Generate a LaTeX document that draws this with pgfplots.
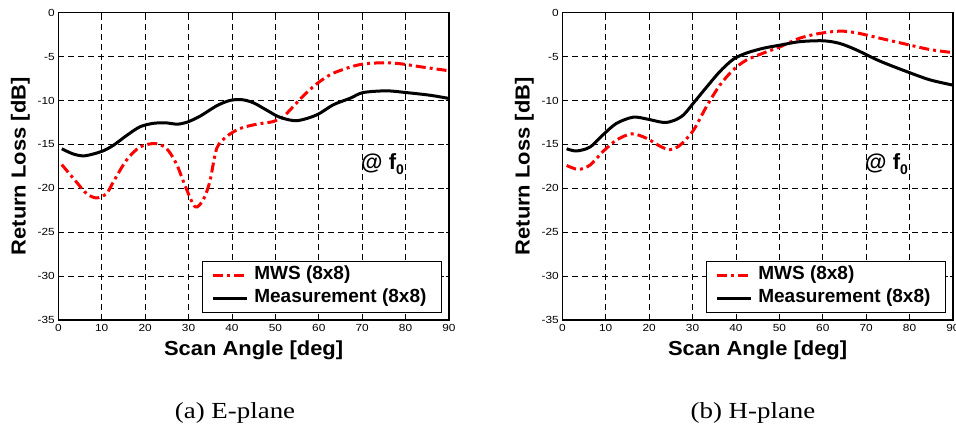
\documentclass[border=0pt]{standalone}
\usepackage{pgfplots}
\pgfplotsset{compat=1.18}
\usepackage{fontspec}
\setmainfont{Liberation Sans}
\newfontfamily\capfont[FakeStretch=1.17]{Liberation Serif}
\newfontfamily\tkfont[FakeStretch=1.15]{Liberation Sans}
\newfontfamily\lbfont[FakeStretch=1.08]{Liberation Sans}
\pgfplotsset{
  rl/.style={
    width=390.7pt, height=307.3pt, scale only axis,
    anchor=north west,
    xmin=0, xmax=90, ymin=-35, ymax=0,
    xtick={0,10,...,90}, ytick={-35,-30,...,0},
    grid=major,
    major grid style={black, line width=0.7pt, dash pattern=on 6pt off 4pt},
    axis line style={line width=1.2pt},
    tick align=inside, major tick length=3pt, tick style={black, line width=0.8pt},
    /pgf/number format/assume math mode=true,
    ticklabel style={font=\tkfont\fontsize{10.3}{12}\selectfont},
    xticklabel style={yshift=-0.5pt},
    yticklabel style={xshift=0pt},
    xlabel={Scan Angle [deg]}, ylabel={Return Loss [dB]},
    label style={font=\lbfont\bfseries\fontsize{20.3}{23}\selectfont},
    xlabel style={at={(axis description cs:0.5,-0.098)}, anchor=center},
    ylabel style={at={(axis description cs:-0.097,0.5)}, anchor=center},
    legend style={at={(axis description cs:0.982,0.192)}, anchor=north east,
      draw=black, line width=1pt, font=\bfseries\fontsize{19}{22}\selectfont,
      inner xsep=9pt, inner ysep=2.5pt, row sep=0pt,
      nodes={inner xsep=6pt, inner ysep=2pt, text height=14pt, text depth=5pt}},
    legend cell align=left,
    legend image code/.code={\draw[#1] (0pt,0pt) -- (34pt,0pt);},
  },
  mws/.style={red, line width=3pt, dash pattern=on 10pt off 4pt on 3pt off 4pt, smooth, tension=0.5},
  meas/.style={black, line width=3pt, smooth, tension=0.5},
}
\begin{document}
\begin{tikzpicture}
\path[use as bounding box] (0pt,0pt) rectangle (956pt,-430pt);
\begin{axis}[rl, at={(58.3pt,-12.7pt)}]
\addplot[mws] coordinates {
(0.8,-17.3)(4.2,-19.3)(6.5,-20.6)(8.8,-21.1)(11.1,-20.6)(12.7,-19.25)(15.7,-16.8)(18.8,-15.3)(22.3,-14.9)(24.9,-15.45)(27.2,-17.2)(29.2,-19.7)(31.5,-22.1)(33.4,-21.3)(34.9,-19.25)(36.5,-15.45)(38.8,-14.1)(41.8,-13.2)(45.7,-12.7)(49.5,-12.4)(51.8,-11.85)(54.1,-10.7)(57.2,-9.1)(60.2,-7.85)(63.3,-6.9)(67.9,-6.1)(71,-5.8)(75.6,-5.7)(79.4,-5.85)(83.3,-6.15)(89.8,-6.6)};
\addlegendentry{MWS (8x8)}
\addplot[meas] coordinates {
(0.8,-15.5)(3.5,-16.1)(6.1,-16.3)(10,-15.8)(12.7,-15.1)(15.7,-14.0)(18.8,-13.0)(21.9,-12.6)(25,-12.55)(27.2,-12.7)(29.5,-12.5)(32.6,-11.8)(36.5,-10.6)(39.5,-10.0)(42.2,-9.9)(44.9,-10.25)(48,-11.1)(51,-11.9)(54.9,-12.3)(59.5,-11.65)(63.3,-10.5)(67.2,-9.75)(70.2,-9.1)(75.6,-8.9)(80.2,-9.1)(85.6,-9.4)(89.8,-9.75)};
\addlegendentry{Measurement (8x8)}
\node[font=\bfseries\fontsize{22}{24}\selectfont] at (axis cs:74.7,-17.3) {@ f\raisebox{-5pt}{\fontsize{14}{16}\selectfont 0}};
\end{axis}
\begin{axis}[rl, at={(562.3pt,-12.7pt)}]
\addplot[mws] coordinates {
(1,-17.4)(3.7,-17.85)(6.4,-17.35)(9.4,-15.8)(12.5,-14.5)(16,-13.8)(19.4,-14.3)(22.5,-15.2)(24.8,-15.6)(27.1,-15.1)(30.2,-13.4)(33.2,-10.7)(36.3,-8.25)(39.4,-6.5)(42.4,-5.4)(46.3,-4.6)(50.1,-3.9)(54.7,-2.9)(59.4,-2.35)(64,-2.1)(67.8,-2.3)(73.1,-2.9)(79.3,-3.6)(84.7,-4.2)(90,-4.55)};
\addlegendentry{MWS (8x8)}
\addplot[meas] coordinates {
(1,-15.5)(3.3,-15.75)(6.4,-15.3)(9.4,-13.9)(12.5,-12.6)(16.3,-11.9)(19.4,-12.1)(23.3,-12.5)(25.6,-12.3)(27.9,-11.65)(30.2,-10.3)(33.2,-8.5)(36.3,-6.7)(39.4,-5.3)(42.4,-4.6)(46.3,-4.05)(50.1,-3.7)(54.7,-3.3)(60.1,-3.2)(63.9,-3.5)(67.8,-4.25)(73.1,-5.5)(79.3,-6.7)(84.7,-7.65)(90,-8.25)};
\addlegendentry{Measurement (8x8)}
\node[font=\bfseries\fontsize{22}{24}\selectfont] at (axis cs:74.7,-17.3) {@ f\raisebox{-5pt}{\fontsize{14}{16}\selectfont 0}};
\end{axis}
\node[font=\capfont\fontsize{23}{26}\selectfont] at (235pt,-413pt) {(a) E-plane};
\node[font=\capfont\fontsize{23}{26}\selectfont] at (753pt,-413pt) {(b) H-plane};
\end{tikzpicture}
\end{document}
